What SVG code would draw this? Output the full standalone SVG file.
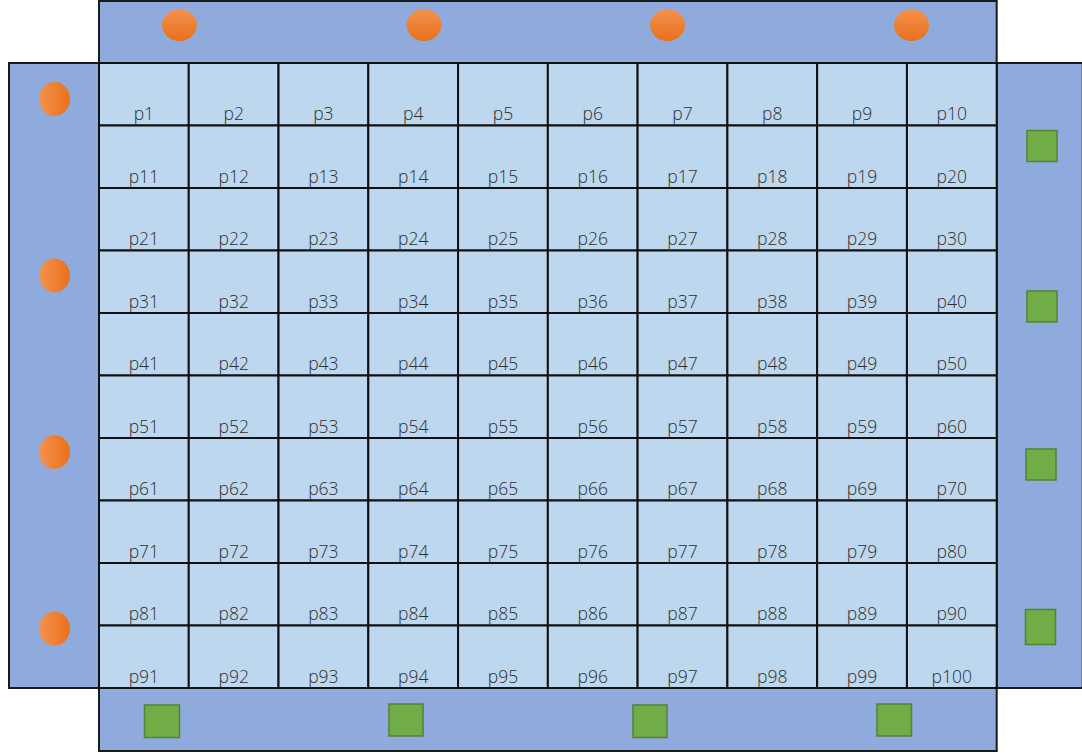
<svg xmlns="http://www.w3.org/2000/svg" width="1082" height="754" viewBox="0 0 1082 754">
<defs>
<style>
.bar{fill:#8FAADC;stroke:#1a1a1a;stroke-width:2}
.cell{fill:#BDD7EE;stroke:#111;stroke-width:2}
.lbl{font-family:"Open Sans","Noto Sans",sans-serif;font-size:17.5px;font-weight:300;fill:#2e2e2e;text-anchor:middle}
.sq{fill:#70AD47;stroke:#548235;stroke-width:1.5}
.ov{fill:url(#gh)}
.ot{fill:url(#gv)}
</style>
<linearGradient id="gh" x1="0" y1="0" x2="1" y2="0"><stop offset="0" stop-color="#F4924D"/><stop offset="1" stop-color="#E8701C"/></linearGradient>
<linearGradient id="gv" x1="0" y1="0" x2="0" y2="1"><stop offset="0" stop-color="#F4924D"/><stop offset="1" stop-color="#E8701C"/></linearGradient>
</defs>
<g id="bars">
<rect id="top-bar" class="bar" x="99" y="1" width="897.7" height="62"/>
<rect id="left-bar" class="bar" x="9" y="63" width="90" height="625"/>
<rect id="right-bar" class="bar" x="996.7" y="63" width="86" height="625"/>
<rect id="bottom-bar" class="bar" x="99" y="688" width="897.7" height="63"/>
</g>
<g id="emitters">
<ellipse class="ot" cx="179.5" cy="25" rx="17.5" ry="16"/>
<ellipse class="ot" cx="424" cy="25" rx="17.5" ry="16"/>
<ellipse class="ot" cx="667.5" cy="25" rx="17.5" ry="16"/>
<ellipse class="ot" cx="911.5" cy="25" rx="17.5" ry="16"/>
<ellipse class="ov" cx="54.5" cy="99" rx="15.5" ry="17"/>
<ellipse class="ov" cx="54.5" cy="275.5" rx="15.5" ry="17"/>
<ellipse class="ov" cx="54.5" cy="452" rx="15.5" ry="17"/>
<ellipse class="ov" cx="54.5" cy="628.5" rx="15.5" ry="17"/>
</g>
<g id="receivers">
<rect class="sq" x="1027" y="130.5" width="30" height="31"/>
<rect class="sq" x="1027" y="291" width="30" height="31"/>
<rect class="sq" x="1026" y="449" width="30" height="31"/>
<rect class="sq" x="1025.5" y="609.5" width="30" height="35"/>
<rect class="sq" x="144.5" y="705" width="35" height="32.5"/>
<rect class="sq" x="389" y="704" width="34" height="32"/>
<rect class="sq" x="633" y="705" width="34" height="32.5"/>
<rect class="sq" x="877" y="704" width="34.5" height="32"/>
</g>
<g id="grid">
<g id="p1"><rect class="cell" x="99" y="63" width="89.77" height="62.5"/><text class="lbl" x="143.9" y="120">p1</text></g>
<g id="p2"><rect class="cell" x="188.77" y="63" width="89.77" height="62.5"/><text class="lbl" x="233.7" y="120">p2</text></g>
<g id="p3"><rect class="cell" x="278.54" y="63" width="89.77" height="62.5"/><text class="lbl" x="323.4" y="120">p3</text></g>
<g id="p4"><rect class="cell" x="368.31" y="63" width="89.77" height="62.5"/><text class="lbl" x="413.2" y="120">p4</text></g>
<g id="p5"><rect class="cell" x="458.08" y="63" width="89.77" height="62.5"/><text class="lbl" x="503" y="120">p5</text></g>
<g id="p6"><rect class="cell" x="547.85" y="63" width="89.77" height="62.5"/><text class="lbl" x="592.7" y="120">p6</text></g>
<g id="p7"><rect class="cell" x="637.62" y="63" width="89.77" height="62.5"/><text class="lbl" x="682.5" y="120">p7</text></g>
<g id="p8"><rect class="cell" x="727.39" y="63" width="89.77" height="62.5"/><text class="lbl" x="772.3" y="120">p8</text></g>
<g id="p9"><rect class="cell" x="817.16" y="63" width="89.77" height="62.5"/><text class="lbl" x="862" y="120">p9</text></g>
<g id="p10"><rect class="cell" x="906.93" y="63" width="89.77" height="62.5"/><text class="lbl" x="951.8" y="120">p10</text></g>
<g id="p11"><rect class="cell" x="99" y="125.5" width="89.77" height="62.5"/><text class="lbl" x="143.9" y="182.5">p11</text></g>
<g id="p12"><rect class="cell" x="188.77" y="125.5" width="89.77" height="62.5"/><text class="lbl" x="233.7" y="182.5">p12</text></g>
<g id="p13"><rect class="cell" x="278.54" y="125.5" width="89.77" height="62.5"/><text class="lbl" x="323.4" y="182.5">p13</text></g>
<g id="p14"><rect class="cell" x="368.31" y="125.5" width="89.77" height="62.5"/><text class="lbl" x="413.2" y="182.5">p14</text></g>
<g id="p15"><rect class="cell" x="458.08" y="125.5" width="89.77" height="62.5"/><text class="lbl" x="503" y="182.5">p15</text></g>
<g id="p16"><rect class="cell" x="547.85" y="125.5" width="89.77" height="62.5"/><text class="lbl" x="592.7" y="182.5">p16</text></g>
<g id="p17"><rect class="cell" x="637.62" y="125.5" width="89.77" height="62.5"/><text class="lbl" x="682.5" y="182.5">p17</text></g>
<g id="p18"><rect class="cell" x="727.39" y="125.5" width="89.77" height="62.5"/><text class="lbl" x="772.3" y="182.5">p18</text></g>
<g id="p19"><rect class="cell" x="817.16" y="125.5" width="89.77" height="62.5"/><text class="lbl" x="862" y="182.5">p19</text></g>
<g id="p20"><rect class="cell" x="906.93" y="125.5" width="89.77" height="62.5"/><text class="lbl" x="951.8" y="182.5">p20</text></g>
<g id="p21"><rect class="cell" x="99" y="188" width="89.77" height="62.5"/><text class="lbl" x="143.9" y="245">p21</text></g>
<g id="p22"><rect class="cell" x="188.77" y="188" width="89.77" height="62.5"/><text class="lbl" x="233.7" y="245">p22</text></g>
<g id="p23"><rect class="cell" x="278.54" y="188" width="89.77" height="62.5"/><text class="lbl" x="323.4" y="245">p23</text></g>
<g id="p24"><rect class="cell" x="368.31" y="188" width="89.77" height="62.5"/><text class="lbl" x="413.2" y="245">p24</text></g>
<g id="p25"><rect class="cell" x="458.08" y="188" width="89.77" height="62.5"/><text class="lbl" x="503" y="245">p25</text></g>
<g id="p26"><rect class="cell" x="547.85" y="188" width="89.77" height="62.5"/><text class="lbl" x="592.7" y="245">p26</text></g>
<g id="p27"><rect class="cell" x="637.62" y="188" width="89.77" height="62.5"/><text class="lbl" x="682.5" y="245">p27</text></g>
<g id="p28"><rect class="cell" x="727.39" y="188" width="89.77" height="62.5"/><text class="lbl" x="772.3" y="245">p28</text></g>
<g id="p29"><rect class="cell" x="817.16" y="188" width="89.77" height="62.5"/><text class="lbl" x="862" y="245">p29</text></g>
<g id="p30"><rect class="cell" x="906.93" y="188" width="89.77" height="62.5"/><text class="lbl" x="951.8" y="245">p30</text></g>
<g id="p31"><rect class="cell" x="99" y="250.5" width="89.77" height="62.5"/><text class="lbl" x="143.9" y="307.5">p31</text></g>
<g id="p32"><rect class="cell" x="188.77" y="250.5" width="89.77" height="62.5"/><text class="lbl" x="233.7" y="307.5">p32</text></g>
<g id="p33"><rect class="cell" x="278.54" y="250.5" width="89.77" height="62.5"/><text class="lbl" x="323.4" y="307.5">p33</text></g>
<g id="p34"><rect class="cell" x="368.31" y="250.5" width="89.77" height="62.5"/><text class="lbl" x="413.2" y="307.5">p34</text></g>
<g id="p35"><rect class="cell" x="458.08" y="250.5" width="89.77" height="62.5"/><text class="lbl" x="503" y="307.5">p35</text></g>
<g id="p36"><rect class="cell" x="547.85" y="250.5" width="89.77" height="62.5"/><text class="lbl" x="592.7" y="307.5">p36</text></g>
<g id="p37"><rect class="cell" x="637.62" y="250.5" width="89.77" height="62.5"/><text class="lbl" x="682.5" y="307.5">p37</text></g>
<g id="p38"><rect class="cell" x="727.39" y="250.5" width="89.77" height="62.5"/><text class="lbl" x="772.3" y="307.5">p38</text></g>
<g id="p39"><rect class="cell" x="817.16" y="250.5" width="89.77" height="62.5"/><text class="lbl" x="862" y="307.5">p39</text></g>
<g id="p40"><rect class="cell" x="906.93" y="250.5" width="89.77" height="62.5"/><text class="lbl" x="951.8" y="307.5">p40</text></g>
<g id="p41"><rect class="cell" x="99" y="313" width="89.77" height="62.5"/><text class="lbl" x="143.9" y="370">p41</text></g>
<g id="p42"><rect class="cell" x="188.77" y="313" width="89.77" height="62.5"/><text class="lbl" x="233.7" y="370">p42</text></g>
<g id="p43"><rect class="cell" x="278.54" y="313" width="89.77" height="62.5"/><text class="lbl" x="323.4" y="370">p43</text></g>
<g id="p44"><rect class="cell" x="368.31" y="313" width="89.77" height="62.5"/><text class="lbl" x="413.2" y="370">p44</text></g>
<g id="p45"><rect class="cell" x="458.08" y="313" width="89.77" height="62.5"/><text class="lbl" x="503" y="370">p45</text></g>
<g id="p46"><rect class="cell" x="547.85" y="313" width="89.77" height="62.5"/><text class="lbl" x="592.7" y="370">p46</text></g>
<g id="p47"><rect class="cell" x="637.62" y="313" width="89.77" height="62.5"/><text class="lbl" x="682.5" y="370">p47</text></g>
<g id="p48"><rect class="cell" x="727.39" y="313" width="89.77" height="62.5"/><text class="lbl" x="772.3" y="370">p48</text></g>
<g id="p49"><rect class="cell" x="817.16" y="313" width="89.77" height="62.5"/><text class="lbl" x="862" y="370">p49</text></g>
<g id="p50"><rect class="cell" x="906.93" y="313" width="89.77" height="62.5"/><text class="lbl" x="951.8" y="370">p50</text></g>
<g id="p51"><rect class="cell" x="99" y="375.5" width="89.77" height="62.5"/><text class="lbl" x="143.9" y="432.5">p51</text></g>
<g id="p52"><rect class="cell" x="188.77" y="375.5" width="89.77" height="62.5"/><text class="lbl" x="233.7" y="432.5">p52</text></g>
<g id="p53"><rect class="cell" x="278.54" y="375.5" width="89.77" height="62.5"/><text class="lbl" x="323.4" y="432.5">p53</text></g>
<g id="p54"><rect class="cell" x="368.31" y="375.5" width="89.77" height="62.5"/><text class="lbl" x="413.2" y="432.5">p54</text></g>
<g id="p55"><rect class="cell" x="458.08" y="375.5" width="89.77" height="62.5"/><text class="lbl" x="503" y="432.5">p55</text></g>
<g id="p56"><rect class="cell" x="547.85" y="375.5" width="89.77" height="62.5"/><text class="lbl" x="592.7" y="432.5">p56</text></g>
<g id="p57"><rect class="cell" x="637.62" y="375.5" width="89.77" height="62.5"/><text class="lbl" x="682.5" y="432.5">p57</text></g>
<g id="p58"><rect class="cell" x="727.39" y="375.5" width="89.77" height="62.5"/><text class="lbl" x="772.3" y="432.5">p58</text></g>
<g id="p59"><rect class="cell" x="817.16" y="375.5" width="89.77" height="62.5"/><text class="lbl" x="862" y="432.5">p59</text></g>
<g id="p60"><rect class="cell" x="906.93" y="375.5" width="89.77" height="62.5"/><text class="lbl" x="951.8" y="432.5">p60</text></g>
<g id="p61"><rect class="cell" x="99" y="438" width="89.77" height="62.5"/><text class="lbl" x="143.9" y="495">p61</text></g>
<g id="p62"><rect class="cell" x="188.77" y="438" width="89.77" height="62.5"/><text class="lbl" x="233.7" y="495">p62</text></g>
<g id="p63"><rect class="cell" x="278.54" y="438" width="89.77" height="62.5"/><text class="lbl" x="323.4" y="495">p63</text></g>
<g id="p64"><rect class="cell" x="368.31" y="438" width="89.77" height="62.5"/><text class="lbl" x="413.2" y="495">p64</text></g>
<g id="p65"><rect class="cell" x="458.08" y="438" width="89.77" height="62.5"/><text class="lbl" x="503" y="495">p65</text></g>
<g id="p66"><rect class="cell" x="547.85" y="438" width="89.77" height="62.5"/><text class="lbl" x="592.7" y="495">p66</text></g>
<g id="p67"><rect class="cell" x="637.62" y="438" width="89.77" height="62.5"/><text class="lbl" x="682.5" y="495">p67</text></g>
<g id="p68"><rect class="cell" x="727.39" y="438" width="89.77" height="62.5"/><text class="lbl" x="772.3" y="495">p68</text></g>
<g id="p69"><rect class="cell" x="817.16" y="438" width="89.77" height="62.5"/><text class="lbl" x="862" y="495">p69</text></g>
<g id="p70"><rect class="cell" x="906.93" y="438" width="89.77" height="62.5"/><text class="lbl" x="951.8" y="495">p70</text></g>
<g id="p71"><rect class="cell" x="99" y="500.5" width="89.77" height="62.5"/><text class="lbl" x="143.9" y="557.5">p71</text></g>
<g id="p72"><rect class="cell" x="188.77" y="500.5" width="89.77" height="62.5"/><text class="lbl" x="233.7" y="557.5">p72</text></g>
<g id="p73"><rect class="cell" x="278.54" y="500.5" width="89.77" height="62.5"/><text class="lbl" x="323.4" y="557.5">p73</text></g>
<g id="p74"><rect class="cell" x="368.31" y="500.5" width="89.77" height="62.5"/><text class="lbl" x="413.2" y="557.5">p74</text></g>
<g id="p75"><rect class="cell" x="458.08" y="500.5" width="89.77" height="62.5"/><text class="lbl" x="503" y="557.5">p75</text></g>
<g id="p76"><rect class="cell" x="547.85" y="500.5" width="89.77" height="62.5"/><text class="lbl" x="592.7" y="557.5">p76</text></g>
<g id="p77"><rect class="cell" x="637.62" y="500.5" width="89.77" height="62.5"/><text class="lbl" x="682.5" y="557.5">p77</text></g>
<g id="p78"><rect class="cell" x="727.39" y="500.5" width="89.77" height="62.5"/><text class="lbl" x="772.3" y="557.5">p78</text></g>
<g id="p79"><rect class="cell" x="817.16" y="500.5" width="89.77" height="62.5"/><text class="lbl" x="862" y="557.5">p79</text></g>
<g id="p80"><rect class="cell" x="906.93" y="500.5" width="89.77" height="62.5"/><text class="lbl" x="951.8" y="557.5">p80</text></g>
<g id="p81"><rect class="cell" x="99" y="563" width="89.77" height="62.5"/><text class="lbl" x="143.9" y="620">p81</text></g>
<g id="p82"><rect class="cell" x="188.77" y="563" width="89.77" height="62.5"/><text class="lbl" x="233.7" y="620">p82</text></g>
<g id="p83"><rect class="cell" x="278.54" y="563" width="89.77" height="62.5"/><text class="lbl" x="323.4" y="620">p83</text></g>
<g id="p84"><rect class="cell" x="368.31" y="563" width="89.77" height="62.5"/><text class="lbl" x="413.2" y="620">p84</text></g>
<g id="p85"><rect class="cell" x="458.08" y="563" width="89.77" height="62.5"/><text class="lbl" x="503" y="620">p85</text></g>
<g id="p86"><rect class="cell" x="547.85" y="563" width="89.77" height="62.5"/><text class="lbl" x="592.7" y="620">p86</text></g>
<g id="p87"><rect class="cell" x="637.62" y="563" width="89.77" height="62.5"/><text class="lbl" x="682.5" y="620">p87</text></g>
<g id="p88"><rect class="cell" x="727.39" y="563" width="89.77" height="62.5"/><text class="lbl" x="772.3" y="620">p88</text></g>
<g id="p89"><rect class="cell" x="817.16" y="563" width="89.77" height="62.5"/><text class="lbl" x="862" y="620">p89</text></g>
<g id="p90"><rect class="cell" x="906.93" y="563" width="89.77" height="62.5"/><text class="lbl" x="951.8" y="620">p90</text></g>
<g id="p91"><rect class="cell" x="99" y="625.5" width="89.77" height="62.5"/><text class="lbl" x="143.9" y="682.5">p91</text></g>
<g id="p92"><rect class="cell" x="188.77" y="625.5" width="89.77" height="62.5"/><text class="lbl" x="233.7" y="682.5">p92</text></g>
<g id="p93"><rect class="cell" x="278.54" y="625.5" width="89.77" height="62.5"/><text class="lbl" x="323.4" y="682.5">p93</text></g>
<g id="p94"><rect class="cell" x="368.31" y="625.5" width="89.77" height="62.5"/><text class="lbl" x="413.2" y="682.5">p94</text></g>
<g id="p95"><rect class="cell" x="458.08" y="625.5" width="89.77" height="62.5"/><text class="lbl" x="503" y="682.5">p95</text></g>
<g id="p96"><rect class="cell" x="547.85" y="625.5" width="89.77" height="62.5"/><text class="lbl" x="592.7" y="682.5">p96</text></g>
<g id="p97"><rect class="cell" x="637.62" y="625.5" width="89.77" height="62.5"/><text class="lbl" x="682.5" y="682.5">p97</text></g>
<g id="p98"><rect class="cell" x="727.39" y="625.5" width="89.77" height="62.5"/><text class="lbl" x="772.3" y="682.5">p98</text></g>
<g id="p99"><rect class="cell" x="817.16" y="625.5" width="89.77" height="62.5"/><text class="lbl" x="862" y="682.5">p99</text></g>
<g id="p100"><rect class="cell" x="906.93" y="625.5" width="89.77" height="62.5"/><text class="lbl" x="951.8" y="682.5">p100</text></g>
</g>
<g id="connectors"/>
</svg>
